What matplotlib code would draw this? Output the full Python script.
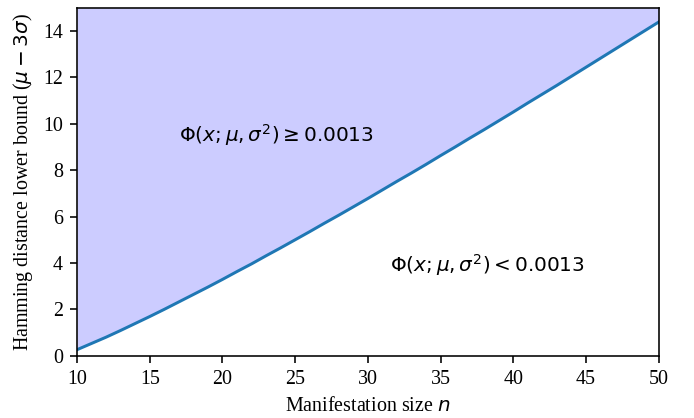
import matplotlib
matplotlib.use('Agg')
import matplotlib.pyplot as plt
import numpy as np

plt.rcParams['font.family'] = ['Liberation Serif', 'DejaVu Serif']
plt.rcParams['mathtext.fontset'] = 'dejavusans'
plt.rcParams['font.size'] = 10

# manifestation size n and the lower bound
n = list(range(10, 51))
lower = [0.26, 0.53, 0.80, 1.09, 1.39, 1.69, 2.00, 2.32, 2.64, 2.96,
         3.29, 3.63, 3.96, 4.31, 4.65, 5.00, 5.35, 5.71, 6.06, 6.42,
         6.78, 7.15, 7.52, 7.88, 8.25, 8.63, 9.00, 9.38, 9.75, 10.13,
         10.51, 10.90, 11.28, 11.66, 12.05, 12.44, 12.83, 13.22, 13.61, 14.00,
         14.39]
ymax = 15

fig, ax = plt.subplots(figsize=(694 / 144, 418 / 144), dpi=144)
ax.plot(n, lower, color='#1f77b4', linewidth=1.5)
ax.fill_between(n, lower, ymax, color='blue', alpha=0.2, linewidth=0)

ax.text(17, 9.5, r'$\Phi(x;\mu,\sigma^2) \geq 0.0013$', va='center',
        fontfamily='DejaVu Sans')
ax.text(31.5, 3.9, r'$\Phi(x;\mu,\sigma^2) < 0.0013$', va='center',
        fontfamily='DejaVu Sans')

ax.set_xlim(10, 50)
ax.set_ylim(0, ymax)
ax.set_xlabel('Manifestation size $n$')
ax.set_ylabel(r'Hamming distance lower bound ($\mu - 3\sigma$)')

fig.subplots_adjust(left=0.111, right=0.949, top=0.981, bottom=0.149)
fig.savefig('out.png', dpi=144)
